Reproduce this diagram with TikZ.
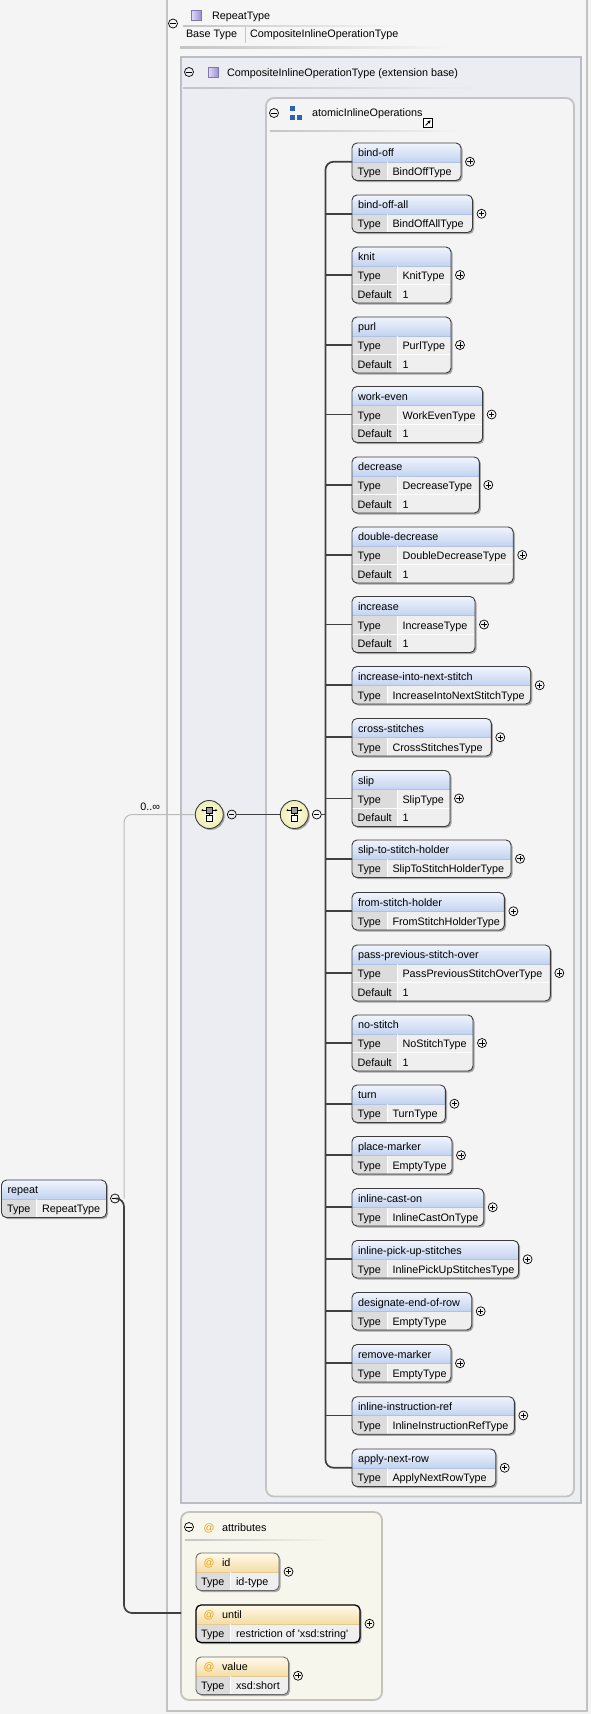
\documentclass[tikz,border=0pt]{standalone}
\usepackage{fontspec}
\setmainfont{Liberation Sans}
\usetikzlibrary{calc,arrows.meta}

\definecolor{pagebg}{HTML}{F4F4F4}
\definecolor{outerfill}{HTML}{F6F6F6}
\definecolor{outerc}{HTML}{C2C2C2}
\definecolor{extfill}{HTML}{ECECF3}
\definecolor{extborder}{HTML}{BDBDC6}
\definecolor{groupfill}{HTML}{F4F4F4}
\definecolor{groupborder}{HTML}{C4C4C4}
\definecolor{attrfill}{HTML}{F6F6EC}
\definecolor{attrborder}{HTML}{C4C4BC}
\definecolor{linec}{HTML}{C4C4C4}
\definecolor{hdtop}{HTML}{F1F5FD}
\definecolor{hdbot}{HTML}{C2D3F0}
\definecolor{hdsepc}{HTML}{AFC2E3}
\definecolor{athdtop}{HTML}{FFFAEA}
\definecolor{athdbot}{HTML}{F4DDA6}
\definecolor{athdsepc}{HTML}{E2CB93}
\definecolor{typec}{HTML}{DCDCDC}
\definecolor{valc}{HTML}{EFEFEF}
\definecolor{elborder}{HTML}{3C3C3C}
\definecolor{optborder}{HTML}{6A6A6A}
\definecolor{shadowc}{HTML}{A6A6A6}
\definecolor{connc}{HTML}{404040}
\definecolor{optc}{HTML}{BBBBBB}
\definecolor{atc}{HTML}{E6A11A}
\definecolor{compin}{HTML}{FDFDE4}
\definecolor{compout}{HTML}{EEEEB4}
\definecolor{compborder}{HTML}{3C3C3C}
\definecolor{compsq}{HTML}{9A9A9A}
\definecolor{typeicl}{HTML}{E4DEF8}
\definecolor{typeicr}{HTML}{9C90D2}
\definecolor{typeicb}{HTML}{7F74B5}
\definecolor{blueic}{HTML}{2A62B4}

% element box: name, left, top, right, label, type, default (empty = none)
\newcommand\elembox[7]{%
  \def\elhasdef{#7}%
  \ifx\elhasdef\empty
    \def\elh{37.5}\pgfmathsetmacro\elsep{#2+35}%
  \else
    \def\elh{56}\pgfmathsetmacro\elsep{#2+45}%
  \fi
  \pgfmathsetmacro\elb{#3+\elh}%
  \pgfmathsetmacro\elw{#4-#2}%
  \fill[shadowc, rounded corners=5] (#2+1.6,#3+1.6) rectangle (#4+1.6,\elb+1.6);
  \begin{scope}
    \clip[rounded corners=5] (#2,#3) rectangle (#4,\elb);
    \fill[valc] (#2,#3) rectangle (#4,\elb);
    \shade[top color=hdtop, bottom color=hdbot] (#2,#3) rectangle (#4,#3+19);
    \fill[typec] (#2,#3+19) rectangle (\elsep,\elb);
    \draw[hdsep] (#2,#3+19) -- (#4,#3+19);
    \draw[cellsep] (\elsep,#3+19) -- (\elsep,\elb);
    \ifx\elhasdef\empty\else
      \draw[cellsep] (#2,#3+37.5) -- (#4,#3+37.5);
    \fi
  \end{scope}
  \node[elnode, minimum width=\elw, minimum height=\elh, anchor=north west] (#1) at (#2,#3) {};
  \node[lbl] (#1-name) at (#2+6,#3+13.5) {#5};
  \node[lbl] (#1-tk) at (#2+5.5,#3+32.5) {Type};
  \node[lbl] (#1-tv) at (\elsep+5.5,#3+32.5) {#6};
  \ifx\elhasdef\empty\else
    \node[lbl] (#1-dk) at (#2+5.5,#3+51) {Default};
    \node[lbl] (#1-dv) at (\elsep+5.5,#3+51) {#7};
  \fi
}

% attribute box: name, top, right, label, type, border style
\newcommand\attrbox[6]{%
  \pgfmathsetmacro\atb{#2+37.5}%
  \pgfmathsetmacro\atw{#3-196}%
  \fill[shadowc, rounded corners=5] (197.6,#2+1.6) rectangle (#3+1.6,\atb+1.6);
  \begin{scope}
    \clip[rounded corners=5] (196,#2) rectangle (#3,\atb);
    \fill[valc] (196,#2) rectangle (#3,\atb);
    \shade[top color=athdtop, bottom color=athdbot] (196,#2) rectangle (#3,#2+19);
    \fill[typec] (196,#2+19) rectangle (230,\atb);
    \draw[athdsep] (196,#2+19) -- (#3,#2+19);
    \draw[cellsep] (230,#2+19) -- (230,\atb);
  \end{scope}
  \node[elnode, #6, minimum width=\atw, minimum height=37.5, anchor=north west] (#1) at (196,#2) {};
  \node[lbl, text=atc] (#1-at) at (203.5,#2+13.5) {@};
  \node[lbl] (#1-name) at (222,#2+13.5) {#4};
  \node[lbl] (#1-tk) at (201,#2+32.5) {Type};
  \node[lbl] (#1-tv) at (236,#2+32.5) {#5};
  \node[plusnode, xshift=9.5] (#1-plus) at (#1.east) {};
}

% compositor glyph drawn inside a compositor circle
\newcommand\compicon[2]{%
  \draw[black, line width=0.6, {Latex[length=1.8pt,width=2.6pt]}-{Latex[length=1.8pt,width=2.6pt]}] (#1-8,#2-4.3) -- (#1+8,#2-4.3);
  \draw[black, line width=0.5] (#1,#2-2) -- (#1,#2+1.2);
  \draw[black, line width=0.5, fill=compsq] (#1-3,#2-7.3) rectangle (#1+3,#2-1.7);
  \draw[black, line width=0.5, fill=white] (#1-3,#2+1.2) rectangle (#1+3,#2+7.2);
}

% small lavender type glyph, top-left corner given
\newcommand\typeicon[2]{%
  \shade[left color=typeicl, right color=typeicr] (#1,#2) rectangle (#1+10,#2+10);
  \draw[typeicb, line width=0.6] (#1,#2) rectangle (#1+10,#2+10);
}

\begin{document}
\begin{tikzpicture}[x=1pt,y=-1pt, font=\fontsize{10.8}{13}\selectfont,
  lbl/.style={inner sep=0, outer sep=0, anchor=base west, text=black},
  elnode/.style={draw=elborder, line width=0.9, rounded corners=5, inner sep=0, outer sep=0},
  optattr/.style={draw=optborder, line width=0.9},
  reqattr/.style={draw=black, line width=1.3},
  conn/.style={draw=connc, line width=1.7},
  optconn/.style={draw=optc, line width=1},
  hdsep/.style={draw=hdsepc, line width=0.8},
  athdsep/.style={draw=athdsepc, line width=0.8},
  cellsep/.style={draw=white, line width=1},
  signnode/.style={circle, draw=black, line width=0.7, minimum size=9, inner sep=0, outer sep=0},
  minusnode/.style={signnode, path picture={\draw[black, line width=0.7] ([xshift=-2.6pt]path picture bounding box.center) -- ([xshift=2.6pt]path picture bounding box.center);}},
  plusnode/.style={signnode, path picture={\draw[black, line width=0.7] ([xshift=-2.6pt]path picture bounding box.center) -- ([xshift=2.6pt]path picture bounding box.center) ([yshift=-2.6pt]path picture bounding box.center) -- ([yshift=2.6pt]path picture bounding box.center);}},
  compnode/.style={circle, minimum size=28, inner sep=0, outer sep=0, draw=compborder, line width=0.9, shade, inner color=compin, outer color=compout}
]
\useasboundingbox (0,0) rectangle (591,1714);
\fill[pagebg] (0,0) rectangle (591,1714);

% complex type RepeatType
\draw[outerc, line width=2, fill=outerfill] (167,-5) rectangle (587,1711);
\node[minusnode] (rtm) at (173,23.5) {};
\typeicon{191}{10}
\node[lbl] (rtname) at (212,19) {RepeatType};
\shade[left color=linec, right color=outerfill] (183,25) rectangle (403,26.2);
\node[lbl] (rtbasek) at (186,37.5) {Base Type};
\draw[linec, line width=0.8] (245.5,27) -- (245.5,43);
\node[lbl] (rtbasev) at (250,37.5) {CompositeInlineOperationType};
\shade[left color=linec, right color=outerfill] (180,46.5) rectangle (450,48);

% extension base
\draw[extborder, line width=1.8, fill=extfill] (181,57) rectangle (581,1503);
\node[minusnode] (extm) at (189,72) {};
\typeicon{208}{67}
\node[lbl] (extname) at (227,76) {CompositeInlineOperationType (extension base)};
\shade[left color=linec, right color=extfill] (183,87) rectangle (485,88.2);

% group atomicInlineOperations
\draw[groupborder, line width=1.8, fill=groupfill, rounded corners=8] (266,98) rectangle (574,1496.5);
\node[minusnode] (grpm) at (274,113) {};
\fill[blueic] (290,106) rectangle (294.5,110.5);
\fill[blueic] (290,115) rectangle (294.5,119.5);
\fill[blueic] (297,115) rectangle (301.5,119.5);
\node[lbl] (grpname) at (312,116) {atomicInlineOperations};
\draw[black, line width=0.8, fill=white] (423.5,118.5) rectangle (432.5,127.5);
\draw[black, line width=1, -{Stealth[length=3.2pt,width=3.4pt]}] (425.6,125.4) -- (430.6,120.4);
\shade[left color=linec, right color=groupfill] (270,130) rectangle (460,131.2);

% attributes
\draw[attrborder, line width=1.8, fill=attrfill, rounded corners=8] (181,1512) rectangle (382,1700);
\node[minusnode] (attm) at (189,1527) {};
\node[lbl, text=atc] (attat) at (203.5,1531) {@};
\node[lbl] (attname) at (222,1531) {attributes};
\shade[left color=linec, right color=attrfill] (185,1539) rectangle (330,1540.2);

\attrbox{aid}{1553}{279}{id}{id-type}{optattr}
\attrbox{auntil}{1605}{360}{until}{restriction of \textquotesingle xsd:string\textquotesingle}{reqattr}
\attrbox{avalue}{1657}{288.5}{value}{xsd:short}{optattr}

% repeat element
\elembox{repeat}{1.5}{1180}{106.5}{repeat}{RepeatType}{}
\node[minusnode] (repm) at (115,1198.5) {};

% compositors
\fill[shadowc] (210.8,816) circle (14);
\node[compnode] (choice) at (209.3,814.5) {};
\compicon{209.3}{814.5}
\node[minusnode] (choicem) at (231.8,814.5) {};
\fill[shadowc] (295.8,816) circle (14);
\node[compnode] (seq) at (294.3,814.5) {};
\compicon{294.3}{814.5}
\node[minusnode] (seqm) at (316.8,814.5) {};
\node[lbl, anchor=base east] (card) at (160,810.5) {0..∞};

\coordinate (rj) at (124,1198.5);
\coordinate (attrin) at (181,1613);
\coordinate (trunk) at (325.5,814.5);
\draw[optconn, rounded corners=8] (rj) |- (choice.west);
\draw[conn, rounded corners=8] (repm.east) -- (rj) |- (attrin);
\draw[conn] (choicem.east) -- (seq.west);
\draw[conn] (seqm.east) -- (trunk);

% child elements
\elembox{e1}{352}{143}{461}{bind-off}{BindOffType}{}
\elembox{e2}{352}{195}{472.5}{bind-off-all}{BindOffAllType}{}
\elembox{e3}{352}{247}{451}{knit}{KnitType}{1}
\elembox{e4}{352}{317}{451}{purl}{PurlType}{1}
\elembox{e5}{352}{386.5}{482.6}{work-even}{WorkEvenType}{1}
\elembox{e6}{352}{457}{479.3}{decrease}{DecreaseType}{1}
\elembox{e7}{352}{527}{513.2}{double-decrease}{DoubleDecreaseType}{1}
\elembox{e8}{352}{596.5}{475}{increase}{IncreaseType}{1}
\elembox{e9}{352}{666.5}{530.7}{increase-into-next-stitch}{IncreaseIntoNextStitchType}{}
\elembox{e10}{352}{718.5}{491.3}{cross-stitches}{CrossStitchesType}{}
\elembox{e11}{352}{770.5}{450}{slip}{SlipType}{1}
\elembox{e12}{352}{840}{511}{slip-to-stitch-holder}{SlipToStitchHolderType}{}
\elembox{e13}{352}{892.5}{504.4}{from-stitch-holder}{FromStitchHolderType}{}
\elembox{e14}{352}{945}{550.3}{pass-previous-stitch-over}{PassPreviousStitchOverType}{1}
\elembox{e15}{352}{1015}{473}{no-stitch}{NoStitchType}{1}
\elembox{e16}{352}{1085}{445.4}{turn}{TurnType}{}
\elembox{e17}{352}{1136.5}{452}{place-marker}{EmptyType}{}
\elembox{e18}{352}{1188.5}{483.7}{inline-cast-on}{InlineCastOnType}{}
\elembox{e19}{352}{1240.5}{518.6}{inline-pick-up-stitches}{InlinePickUpStitchesType}{}
\elembox{e20}{352}{1292.5}{471.7}{designate-end-of-row}{EmptyType}{}
\elembox{e21}{352}{1344.5}{451}{remove-marker}{EmptyType}{}
\elembox{e22}{352}{1396.7}{514.3}{inline-instruction-ref}{InlineInstructionRefType}{}
\elembox{e23}{352}{1449}{495.7}{apply-next-row}{ApplyNextRowType}{}

% sequence trunk and branches
\draw[conn, rounded corners=8] (e1.west) -| (trunk) |- (e23.west);
\foreach \i in {2,...,22} \draw[conn] (e\i.west -| trunk) -- (e\i.west);
\foreach \i in {1,...,23} \node[plusnode, xshift=9] (e\i-plus) at (e\i.east) {};
\end{tikzpicture}
\end{document}
